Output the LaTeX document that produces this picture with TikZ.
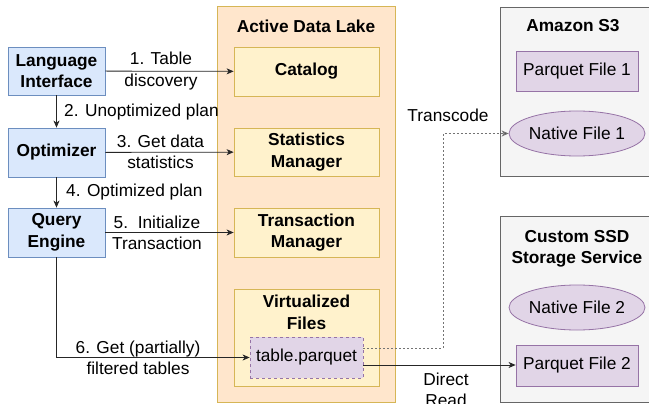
\documentclass[tikz,border=0pt]{standalone}
\usepackage{fontspec}
\setmainfont{Liberation Sans}
\usetikzlibrary{arrows.meta,shapes.geometric}
\definecolor{bluefill}{HTML}{DAE8FC}
\definecolor{bluedraw}{HTML}{6C8EBF}
\definecolor{lakefill}{HTML}{FFE6CC}
\definecolor{lakedraw}{HTML}{D6B656}
\definecolor{yelfill}{HTML}{FFF2CC}
\definecolor{yeldraw}{HTML}{D6B656}
\definecolor{purfill}{HTML}{E1D5E7}
\definecolor{purdraw}{HTML}{9673A6}
\definecolor{greyfill}{HTML}{F5F5F5}
\definecolor{greydraw}{HTML}{666666}
\tikzset{
  x=1pt, y=-1pt,
  every node/.style={font=\fontsize{17.3}{21.5}\selectfont, inner sep=0pt, align=center},
  bluebox/.style={draw=bluedraw, fill=bluefill, line width=0.8pt, font=\fontsize{17.3}{21.5}\selectfont\bfseries, minimum width=97pt},
  lakebox/.style={draw=lakedraw, fill=yelfill, line width=0.8pt, font=\fontsize{17.3}{21.5}\selectfont\bfseries, minimum width=145pt},
  purbox/.style={draw=purdraw, fill=purfill, line width=0.8pt, minimum width=122pt},
  purell/.style={ellipse, draw=purdraw, fill=purfill, line width=0.8pt, minimum width=122pt, minimum height=45pt},
  container/.style={line width=0.8pt},
  conn/.style={draw=black!85, line width=0.8pt, -{Stealth[length=7pt,width=6pt,inset=2pt]}},
  dotconn/.style={draw=black!55, line width=1pt, dash pattern=on 2pt off 2pt, -{Stealth[length=7pt,width=6pt,inset=2pt,fill=black!85]}},
  lbl/.style={font=\fontsize{17.3}{21.5}\selectfont},
  ttl/.style={font=\fontsize{17.3}{21.5}\selectfont\bfseries},
}
\begin{document}
\begin{tikzpicture}
\useasboundingbox (0,0) rectangle (649,404);
\fill[white] (0,0) rectangle (649,404);

% storage containers
\draw[container, draw=lakedraw, fill=lakefill] (217,6) rectangle (395,402);
\node[ttl] (lake) at (306,26) {Active Data Lake};
\draw[container, draw=greydraw, fill=greyfill] (500,7) rectangle (660,176);
\node[ttl] (s3) at (573,26) {Amazon S3};
\draw[container, draw=greydraw, fill=greyfill] (500,216) rectangle (660,402);
\node[ttl] (ssd) at (577,249) {Custom SSD\\Storage Service};

% query-side components
\node[bluebox, minimum height=48pt] (li) at (56.5,71) {Language\\Interface};
\node[bluebox, minimum height=49pt] (opt) at (56.5,152.5) {Optimizer};
\node[bluebox, minimum height=49pt] (qe) at (56.5,232.5) {Query\\Engine};

% data lake services
\node[lakebox, minimum height=49pt] (cat) at (306.5,71.5) {Catalog};
\node[lakebox, minimum height=48pt] (stat) at (306.5,152) {Statistics\\Manager};
\node[lakebox, minimum height=49pt] (tm) at (306.5,232.5) {Transaction\\Manager};
\node[lakebox, minimum height=97pt] (vf) at (306.5,337.5) {};
\node[ttl] (vft) at (306.5,312.5) {Virtualized\\Files};
\node[draw=purdraw, fill=purfill, dashed, line width=0.8pt, minimum width=113pt, minimum height=41pt] (tp) at (306.5,357.5) {table.parquet};

% stored files
\node[purbox, minimum height=40pt] (pf1) at (577,71) {Parquet File 1};
\node[purell] (nf1) at (577,133.5) {Native File 1};
\node[purell] (nf2) at (577,307.5) {Native File 2};
\node[purbox, minimum height=41pt] (pf2) at (577,365.5) {Parquet File 2};

% connectors
\draw[conn] (li) -- (cat);
\node[lbl] (l1) at (161,71) {1. Table\\discovery};
\draw[conn] (li) -- (opt);
\node[lbl, anchor=west] (l2) at (64,112) {2. Unoptimized plan};
\draw[conn] (opt) -- (stat);
\node[lbl] (l3) at (160.5,152) {3. Get data\\statistics};
\draw[conn] (opt) -- (qe);
\node[lbl, anchor=west] (l4) at (66,192) {4. Optimized plan};
\draw[conn] (qe) -- (tm);
\node[lbl] (l5) at (157,233) {5.\ \ Initialize\\Transaction};
\draw[conn] (qe.south) |- (tp.west);
\node[lbl] (l6) at (138,358) {6. Get (partially)\\filtered tables};

\coordinate (tpa) at ([yshift=9.5pt]tp.east);
\coordinate (tpb) at ([yshift=-7.5pt]tp.east);
\coordinate (bend) at (443,133.5);
\draw[dotconn] (tpa) -| (bend) -- (nf1.west);
\node[lbl] (l7) at (448,115) {Transcode};
\draw[conn] (tpb) -- (pf2.west |- tpb);
\node[lbl] (l8) at (446,390) {Direct\\Read};
\end{tikzpicture}
\end{document}
